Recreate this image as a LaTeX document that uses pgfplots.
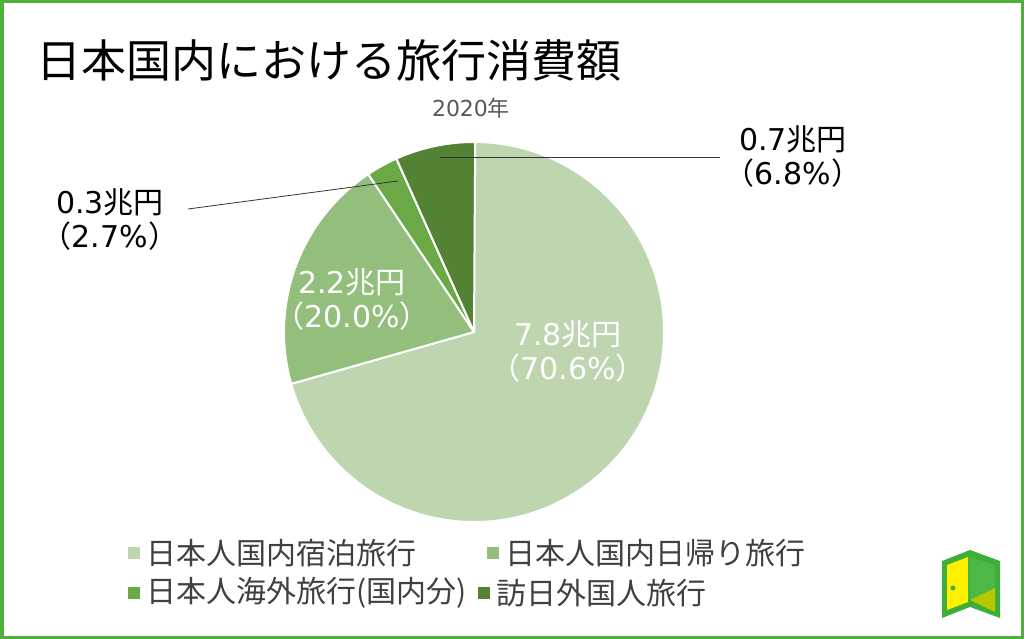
\documentclass[border=0pt]{standalone}
\usepackage{pgfplots}
\pgfplotsset{compat=1.18}
\usepackage{fontspec}
\setmainfont{Noto Sans CJK JP}
\newfontfamily\numf{DejaVu Sans}
\definecolor{s1}{HTML}{BDD6B0}
\definecolor{s2}{HTML}{93BE7C}
\definecolor{s3}{HTML}{6BA846}
\definecolor{s4}{HTML}{548235}
\definecolor{frame}{HTML}{4DB03A}
\definecolor{lgtext}{HTML}{404040}
\definecolor{subt}{HTML}{595959}
\definecolor{logog}{HTML}{3DAE3A}
\definecolor{logoy}{HTML}{FFF000}
\definecolor{logol}{HTML}{B5C800}
\definecolor{logor}{HTML}{4BB848}
\begin{document}
\begin{tikzpicture}
\begin{axis}[x=1bp, y=1bp, y dir=reverse, xmin=0, xmax=1024, ymin=0, ymax=639,
  hide axis, clip=false]
% frame
\draw[frame, line width=3.5bp] (axis cs:1.75,1.75) rectangle (axis cs:1022.25,637.25);
% title
\node[anchor=west, inner sep=0pt, font=\fontsize{45bp}{50bp}\selectfont] at (axis cs:36,60) {日本国内における旅行消費額};
\node[inner sep=0pt, text=subt, font=\fontsize{22bp}{28bp}\selectfont] at (axis cs:471,108) {{\numf 2020}年};
% pie slices (values in %: 70.6, 20.0, 2.7, 6.8), clockwise from top
\def\R{190bp}
\fill[s1, draw=white, line width=2bp, line join=round] (axis cs:474,332) -- ++(90:\R) arc[start angle=90, delta angle={-3.6*70.6}, radius=\R] -- cycle;
\fill[s2, draw=white, line width=2bp, line join=round] (axis cs:474,332) -- ++({90-3.6*70.6}:\R) arc[start angle={90-3.6*70.6}, delta angle={-3.6*20.0}, radius=\R] -- cycle;
\fill[s3, draw=white, line width=2bp, line join=round] (axis cs:474,332) -- ++({90-3.6*(70.6+20.0)}:\R) arc[start angle={90-3.6*(70.6+20.0)}, delta angle={-3.6*2.7}, radius=\R] -- cycle;
\fill[s4, draw=white, line width=2bp, line join=round] (axis cs:474,332) -- ++({90-3.6*(70.6+20.0+2.7)}:\R) arc[start angle={90-3.6*(70.6+20.0+2.7)}, delta angle={-3.6*6.8}, radius=\R] -- cycle;
% labels
\node[text=white, align=center, inner sep=0pt, font=\fontsize{30bp}{34bp}\selectfont] at (axis cs:568,352) {{\numf 7.8}兆円\\（{\numf 70.6\%}）};
\node[text=white, align=center, inner sep=0pt, font=\fontsize{30bp}{34bp}\selectfont] at (axis cs:352,300) {{\numf 2.2}兆円\\（{\numf 20.0\%}）};
\node[text=black, align=center, inner sep=0pt, font=\fontsize{30bp}{34bp}\selectfont] at (axis cs:110,220) {{\numf 0.3}兆円\\（{\numf 2.7\%}）};
\node[text=black, align=center, inner sep=0pt, font=\fontsize{30bp}{34bp}\selectfont] at (axis cs:793,157) {{\numf 0.7}兆円\\（{\numf 6.8\%}）};
% leader lines
\draw[black!80, line width=0.8bp] (axis cs:440,157) -- (axis cs:720,157);
\draw[black!80, line width=0.8bp] (axis cs:398,181) -- (axis cs:188,209);
% legend
\fill[s1] (axis cs:128,547) rectangle (axis cs:140,559);
\node[anchor=west, inner sep=0pt, text=lgtext, font=\fontsize{30bp}{34bp}\selectfont] at (axis cs:146,553) {日本人国内宿泊旅行};
\fill[s2] (axis cs:487,547) rectangle (axis cs:499,559);
\node[anchor=west, inner sep=0pt, text=lgtext, font=\fontsize{30bp}{34bp}\selectfont] at (axis cs:505,553) {日本人国内日帰り旅行};
\fill[s3] (axis cs:128,587) rectangle (axis cs:140,599);
\node[anchor=west, inner sep=0pt, text=lgtext, font=\fontsize{30bp}{34bp}\selectfont] at (axis cs:146,593) {日本人海外旅行(国内分)};
\fill[s4] (axis cs:478,587) rectangle (axis cs:490,599);
\node[anchor=west, inner sep=0pt, text=lgtext, font=\fontsize{30bp}{34bp}\selectfont] at (axis cs:496,593) {訪日外国人旅行};
% logo
\fill[logog] (axis cs:942,561) -- (axis cs:970,550) -- (axis cs:1000,561) -- (axis cs:1000,618) -- (axis cs:970,607) -- (axis cs:942,618) -- cycle;
\fill[logoy] (axis cs:947,565) -- (axis cs:968,557) -- (axis cs:968,602) -- (axis cs:947,610) -- cycle;
\fill[logor] (axis cs:970,557) -- (axis cs:995,565) -- (axis cs:995,610) -- (axis cs:970,600) -- cycle;
\fill[logol] (axis cs:970,600) -- (axis cs:995,588) -- (axis cs:995,612) -- cycle;
\fill[logog] (axis cs:953,588) circle[radius=2.5bp];
\end{axis}
\end{tikzpicture}
\end{document}
